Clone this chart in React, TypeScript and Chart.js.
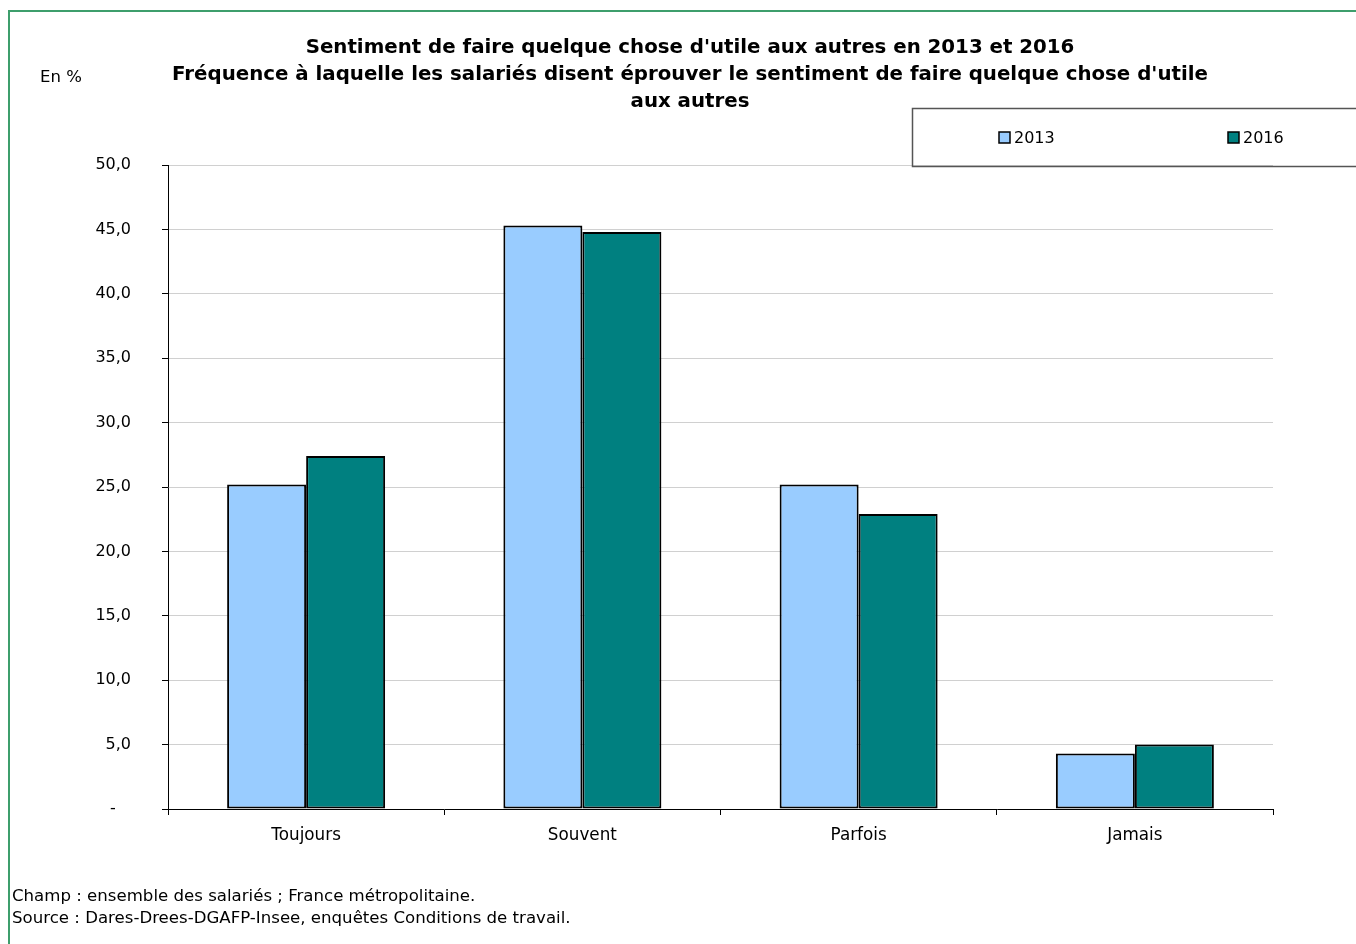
import React, { useEffect, useRef } from "react";
import { Chart, registerables } from "chart.js";

Chart.register(...registerables);

const categories = ["Toujours", "Souvent", "Parfois", "Jamais"];
const series2013 = [25.2, 45.3, 25.2, 4.3];
const series2016 = [27.4, 44.8, 22.9, 5.0];
const seriesLabels = ["2013", "2016"];
const yTicks = [0, 5, 10, 15, 20, 25, 30, 35, 40, 45, 50];
const titleLines = [
  "Sentiment de faire quelque chose d'utile aux autres en 2013 et 2016",
  "Fréquence à laquelle les salariés disent éprouver le sentiment de faire quelque chose d'utile",
  "aux autres",
];
const unitLabel = "En %";
const notes = [
  "Champ : ensemble des salariés ; France métropolitaine.",
  "Source : Dares-Drees-DGAFP-Insee, enquêtes Conditions de travail.",
];

const W = 1356;
const H = 944;
const FONT = '"DejaVu Sans", Verdana, sans-serif';
const C2013 = "#99CCFF";
const C2016 = "#008080";

const decorPlugin = {
  id: "decor",
  afterDraw(chart: any) {
    const ctx = chart.ctx;
    ctx.save();
    // green frame
    ctx.strokeStyle = "#3E9E6C";
    ctx.lineWidth = 2;
    ctx.beginPath();
    ctx.moveTo(9, H + 5);
    ctx.lineTo(9, 11);
    ctx.lineTo(W + 5, 11);
    ctx.stroke();

    // title
    ctx.fillStyle = "#000";
    ctx.textAlign = "center";
    ctx.textBaseline = "middle";
    ctx.font = `bold 19.8px ${FONT}`;
    titleLines.forEach((t, i) => ctx.fillText(t, 690, 48 + i * 27));

    // unit label
    ctx.textAlign = "left";
    ctx.font = `16.5px ${FONT}`;
    ctx.fillText(unitLabel, 40, 78);

    // legend box
    ctx.strokeStyle = "#555";
    ctx.lineWidth = 1.5;
    ctx.strokeRect(912.5, 108.5, 470, 58);
    const entries = [
      { x: 999, color: C2013, label: seriesLabels[0] },
      { x: 1228, color: C2016, label: seriesLabels[1] },
    ];
    entries.forEach((e) => {
      ctx.fillStyle = e.color;
      ctx.fillRect(e.x, 132, 11, 11);
      ctx.strokeStyle = "#000";
      ctx.lineWidth = 1.5;
      ctx.strokeRect(e.x, 132, 11, 11);
      ctx.fillStyle = "#000";
      ctx.font = `16px ${FONT}`;
      ctx.textAlign = "left";
      ctx.fillText(e.label, e.x + 15, 139);
    });

    // notes
    ctx.font = `16.6px ${FONT}`;
    notes.forEach((n, i) => ctx.fillText(n, 12, 897 + i * 22));
    ctx.restore();
  },
};

export default function App() {
  const ref = useRef<HTMLCanvasElement | null>(null);
  useEffect(() => {
    if (!ref.current) return;
    const chart = new Chart(ref.current, {
      type: "bar",
      data: {
        labels: categories,
        datasets: [
          {
            label: seriesLabels[0],
            data: series2013,
            backgroundColor: C2013,
            borderColor: "#000",
            borderWidth: 2,
            borderSkipped: false,
          },
          {
            label: seriesLabels[1],
            data: series2016,
            backgroundColor: C2016,
            borderColor: "#000",
            borderWidth: 2,
            borderSkipped: false,
          },
        ],
      },
      options: {
        responsive: false,
        animation: false,
        layout: { padding: { left: 0, right: 83, top: 165, bottom: 0 } },
        datasets: {
          bar: { categoryPercentage: 0.572, barPercentage: 1 },
        },
        plugins: {
          legend: { display: false },
          title: { display: false },
          tooltip: { enabled: false },
        },
        scales: {
          x: {
            afterFit: (s: any) => {
              s.height = 135;
            },
            grid: {
              offset: true,
              drawOnChartArea: false,
              tickLength: 6,
              tickColor: "#000",
            },
            border: { color: "#000", width: 1 },
            ticks: {
              color: "#000",
              font: { family: FONT, size: 16.8 },
              padding: 11,
            },
          },
          y: {
            min: 0,
            max: 50,
            afterFit: (s: any) => {
              s.width = 168;
            },
            afterBuildTicks: (s: any) => {
              s.ticks = yTicks.map((v) => ({ value: v }));
            },
            grid: {
              color: "#D0D0D0",
              tickColor: "#000",
              tickLength: 6,
            },
            border: { color: "#000", width: 1 },
            ticks: {
              color: "#000",
              font: { family: FONT, size: 16 },
              padding: 31,
              callback: (v: any) =>
                Number(v) === 0 ? "-   " : Number(v).toFixed(1).replace(".", ","),
            },
          },
        },
      },
      plugins: [decorPlugin],
    });
    return () => chart.destroy();
  }, []);
  return (
    <div style={{ position: "absolute", left: 0, top: 0, width: W, height: H, background: "#fff" }}>
      <canvas ref={ref} width={W} height={H} style={{ width: W, height: H, display: "block" }} />
    </div>
  );
}
